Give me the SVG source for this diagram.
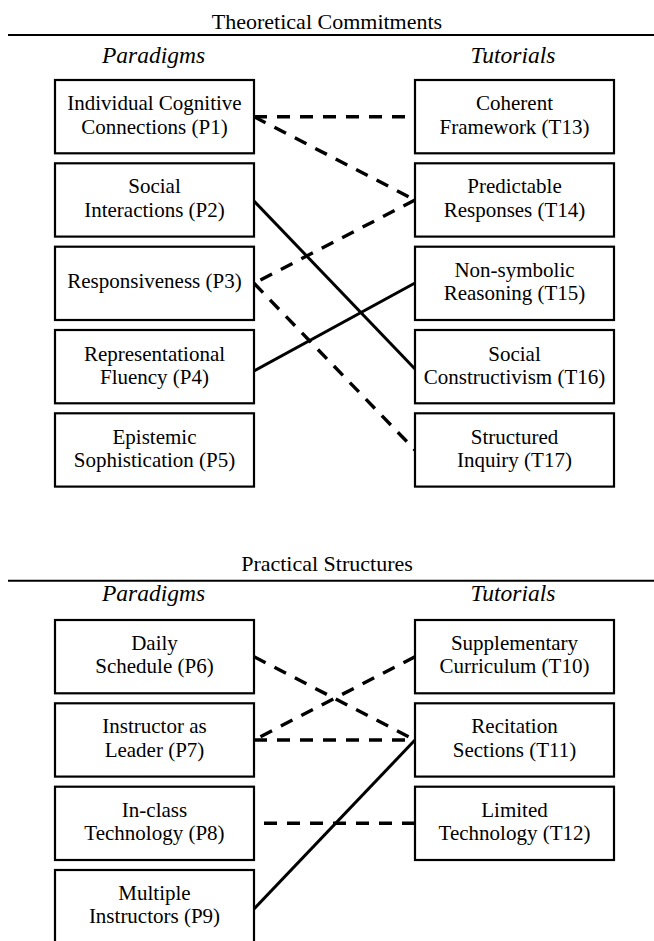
<svg xmlns="http://www.w3.org/2000/svg" width="654" height="941" viewBox="0 0 654 941">
<style>
text{fill:#000}
.t{font-size:21px;text-anchor:middle}
.h{font-size:22px;text-anchor:middle}
.i{font-size:23.5px;font-style:italic;text-anchor:middle}
.box{fill:#fff;stroke:#000;stroke-width:2.2}
.rule{stroke:#000;stroke-width:2}
.c{fill:none;stroke:#000;stroke-width:3}
.d{stroke-width:3.4;stroke-dasharray:13 10}
</style>
<rect width="654" height="941" fill="#fff"/>
<g font-family="Liberation Serif, DejaVu Serif, serif">
<g id="header-top">
<text class="h" x="327" y="29">Theoretical Commitments</text>
<line class="rule" x1="8" y1="35" x2="654" y2="35"/>
<text class="i" x="153.5" y="63">Paradigms</text>
<text class="i" x="513" y="63">Tutorials</text>
</g>
<g id="header-bottom">
<text class="h" x="327" y="570.5">Practical Structures</text>
<line class="rule" x1="8" y1="580.7" x2="654" y2="580.7"/>
<text class="i" x="153.5" y="601">Paradigms</text>
<text class="i" x="513" y="601">Tutorials</text>
</g>
<g id="connectors">
<line class="c d" x1="254" y1="116.7" x2="415" y2="116.7"/>
<line class="c d" x1="254" y1="116.7" x2="415" y2="200"/>
<line class="c d" x1="415" y1="200" x2="254" y2="283.3"/>
<line class="c" x1="254" y1="201" x2="415" y2="369"/>
<line class="c" x1="254" y1="371" x2="415" y2="283"/>
<line class="c d" x1="254" y1="283.3" x2="415" y2="450"/>
<line class="c d" x1="254" y1="656.7" x2="415" y2="740"/>
<line class="c d" x1="415" y1="656.7" x2="254" y2="740"/>
<line class="c d" x1="254" y1="740" x2="415" y2="740"/>
<line class="c d" x1="415" y1="823.3" x2="254" y2="823.3"/>
<line class="c" x1="254" y1="909" x2="415" y2="740"/>
</g>
<g id="P1"><rect class="box" x="55" y="80" width="199" height="73.3"/><text class="t" x="154.5" y="110">Individual Cognitive</text><text class="t" x="154.5" y="133.5">Connections (P1)</text></g>
<g id="P2"><rect class="box" x="55" y="163.3" width="199" height="73.3"/><text class="t" x="154.5" y="193.3">Social</text><text class="t" x="154.5" y="216.8">Interactions (P2)</text></g>
<g id="P3"><rect class="box" x="55" y="246.7" width="199" height="73.3"/><text class="t" x="154.5" y="288.2">Responsiveness (P3)</text></g>
<g id="P4"><rect class="box" x="55" y="330" width="199" height="73.3"/><text class="t" x="154.5" y="360.5">Representational</text><text class="t" x="154.5" y="384">Fluency (P4)</text></g>
<g id="P5"><rect class="box" x="55" y="413.3" width="199" height="73.3"/><text class="t" x="154.5" y="443.8">Epistemic</text><text class="t" x="154.5" y="467.3">Sophistication (P5)</text></g>
<g id="T13"><rect class="box" x="415" y="80" width="199" height="73.3"/><text class="t" x="514.5" y="110">Coherent</text><text class="t" x="514.5" y="133.5">Framework (T13)</text></g>
<g id="T14"><rect class="box" x="415" y="163.3" width="199" height="73.3"/><text class="t" x="514.5" y="193.3">Predictable</text><text class="t" x="514.5" y="216.8">Responses (T14)</text></g>
<g id="T15"><rect class="box" x="415" y="246.7" width="199" height="73.3"/><text class="t" x="514.5" y="276.7">Non-symbolic</text><text class="t" x="514.5" y="300.2">Reasoning (T15)</text></g>
<g id="T16"><rect class="box" x="415" y="330" width="199" height="73.3"/><text class="t" x="514.5" y="360.5">Social</text><text class="t" x="514.5" y="384">Constructivism (T16)</text></g>
<g id="T17"><rect class="box" x="415" y="413.3" width="199" height="73.3"/><text class="t" x="514.5" y="443.8">Structured</text><text class="t" x="514.5" y="467.3">Inquiry (T17)</text></g>
<g id="P6"><rect class="box" x="55" y="620" width="199" height="73.3"/><text class="t" x="154.5" y="650">Daily</text><text class="t" x="154.5" y="673.2">Schedule (P6)</text></g>
<g id="P7"><rect class="box" x="55" y="703.3" width="199" height="73.3"/><text class="t" x="154.5" y="733.3">Instructor as</text><text class="t" x="154.5" y="756.5">Leader (P7)</text></g>
<g id="P8"><rect class="box" x="55" y="786.7" width="199" height="73.3"/><text class="t" x="154.5" y="816.7">In-class</text><text class="t" x="154.5" y="839.9">Technology (P8)</text></g>
<g id="P9"><rect class="box" x="55" y="870" width="199" height="73.3"/><text class="t" x="154.5" y="900">Multiple</text><text class="t" x="154.5" y="923.2">Instructors (P9)</text></g>
<g id="T10"><rect class="box" x="415" y="620" width="199" height="73.3"/><text class="t" x="514.5" y="650">Supplementary</text><text class="t" x="514.5" y="673.2">Curriculum (T10)</text></g>
<g id="T11"><rect class="box" x="415" y="703.3" width="199" height="73.3"/><text class="t" x="514.5" y="733.3">Recitation</text><text class="t" x="514.5" y="756.5">Sections (T11)</text></g>
<g id="T12"><rect class="box" x="415" y="786.7" width="199" height="73.3"/><text class="t" x="514.5" y="816.7">Limited</text><text class="t" x="514.5" y="839.9">Technology (T12)</text></g>
</g>
</svg>
